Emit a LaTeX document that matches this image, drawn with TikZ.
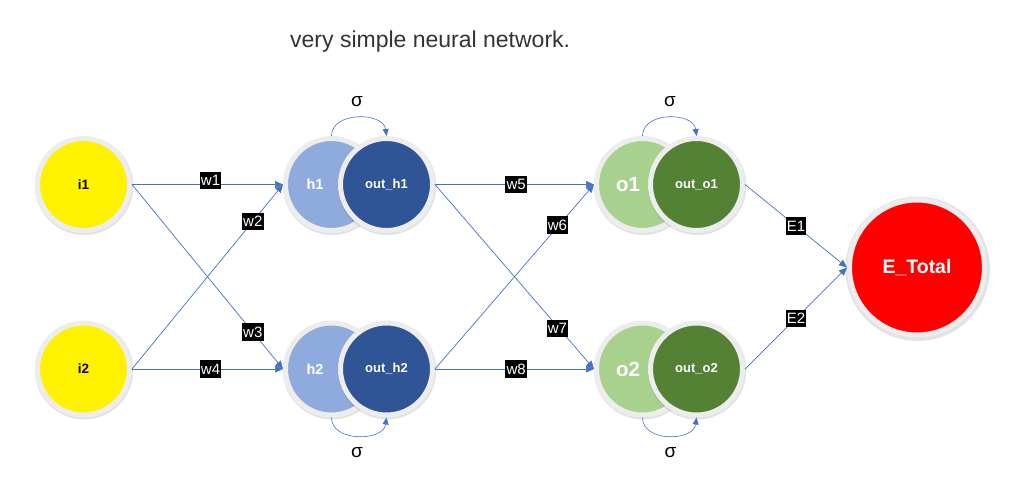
\documentclass[tikz,border=0pt]{standalone}
\usepackage{fontspec}
\setmainfont{Liberation Sans}
\usetikzlibrary{shadows,arrows.meta}
\definecolor{ringgray}{HTML}{EDEDED}
\definecolor{lineblue}{HTML}{4472C4}
\definecolor{hlight}{HTML}{8FAADC}
\definecolor{hdark}{HTML}{2F5597}
\definecolor{olight}{HTML}{A9D18E}
\definecolor{odark}{HTML}{548235}
\definecolor{titlegray}{HTML}{333333}
\tikzset{
  neuron/.style={circle, minimum size=92pt, inner sep=0pt, draw=ringgray, line width=5pt,
    drop shadow={shadow xshift=0.6pt, shadow yshift=-1.2pt, shadow scale=1.07, opacity=0.11, fill=black}},
  wlabel/.style={fill=black, text=white, inner sep=1.2pt, minimum height=17.5pt,
    font=\fontsize{15}{17}\selectfont},
  conn/.style={draw=lineblue, line width=0.7pt, -{Triangle[length=8pt,width=7pt]}},
  sigarc/.style={draw=lineblue, line width=0.6pt, -{Triangle[length=7pt,width=6pt]}},
  sig/.style={font=\fontsize{19}{22}\selectfont, text=black},
}
\begin{document}
\begin{tikzpicture}[x=1pt,y=-1pt]
\useasboundingbox (0,0) rectangle (1010,490);

\node[anchor=base west, text=titlegray, font=\fontsize{23}{26}\selectfont, inner sep=0pt] (title) at (290,47) {very simple neural network.};

% input layer
\node[neuron, fill=yellow, font=\bfseries\fontsize{13.5}{16}\selectfont] (i1) at (83.5,184.5) {i1};
\node[neuron, fill=yellow, font=\bfseries\fontsize{13.5}{16}\selectfont] (i2) at (83.5,369) {i2};

% hidden layer
\node[neuron, fill=hlight, label={[text=white, font=\bfseries\fontsize{14.5}{17}\selectfont, xshift=-16.5pt]center:h1}] (h1) at (331.5,184.5) {};
\node[neuron, fill=hdark, text=white, font=\bfseries\fontsize{13}{16}\selectfont] (oh1) at (386.5,184.5) {out\_h1};
\node[neuron, fill=hlight, label={[text=white, font=\bfseries\fontsize{14.5}{17}\selectfont, xshift=-16.5pt]center:h2}] (h2) at (331.5,369) {};
\node[neuron, fill=hdark, text=white, font=\bfseries\fontsize{13}{16}\selectfont] (oh2) at (386.5,369) {out\_h2};

% output layer
\node[neuron, fill=olight, label={[text=white, font=\bfseries\fontsize{20.5}{24}\selectfont, xshift=-14.5pt]center:o1}] (o1) at (642.5,184.5) {};
\node[neuron, fill=odark, text=white, font=\bfseries\fontsize{13}{16}\selectfont] (oo1) at (696.5,184.5) {out\_o1};
\node[neuron, fill=olight, label={[text=white, font=\bfseries\fontsize{20.5}{24}\selectfont, xshift=-14.5pt]center:o2}] (o2) at (642.5,369) {};
\node[neuron, fill=odark, text=white, font=\bfseries\fontsize{13}{16}\selectfont] (oo2) at (696.5,369) {out\_o2};

% total error
\node[neuron, minimum size=135pt, fill=red, text=white, font=\bfseries\fontsize{19.5}{23}\selectfont] (et) at (917,267.5) {E\_Total};

% connections input -> hidden
\draw[conn] (i1.east) -- node[wlabel, pos=0.52, yshift=4pt] (lw1) {w1} (h1.west);
\draw[conn] (i2.east) -- node[wlabel, pos=0.8] (lw2) {w2} (h1.west);
\draw[conn] (i1.east) -- node[wlabel, pos=0.8] (lw3) {w3} (h2.west);
\draw[conn] (i2.east) -- node[wlabel, pos=0.52] (lw4) {w4} (h2.west);

% hidden -> output
\draw[conn] (oh1.east) -- node[wlabel, pos=0.51] (lw5) {w5} (o1.west);
\draw[conn] (oh2.east) -- node[wlabel, pos=0.77, yshift=2pt] (lw6) {w6} (o1.west);
\draw[conn] (oh1.east) -- node[wlabel, pos=0.77, yshift=-2pt] (lw7) {w7} (o2.west);
\draw[conn] (oh2.east) -- node[wlabel, pos=0.51] (lw8) {w8} (o2.west);

% output -> error
\draw[conn] (oo1.east) -- node[wlabel, pos=0.5] (le1) {E1} (et.west);
\draw[conn] (oo2.east) -- node[wlabel, pos=0.5] (le2) {E2} (et.west);

% sigma arcs
\draw[sigarc] (h1.north) .. controls +(0,-25) and +(-3,-24) .. (oh1.north);
\draw[sigarc] (o1.north) .. controls +(0,-25) and +(-3,-24) .. (oo1.north);
\draw[sigarc] (h2.south) .. controls +(0,25) and +(-3,24) .. (oh2.south);
\draw[sigarc] (o2.south) .. controls +(0,25) and +(-3,24) .. (oo2.south);

\node[sig] (s1) at (357,101.5) {σ};
\node[sig] (s2) at (670,101.5) {σ};
\node[sig] (s3) at (357,453) {σ};
\node[sig] (s4) at (670.5,453) {σ};
\end{tikzpicture}
\end{document}
